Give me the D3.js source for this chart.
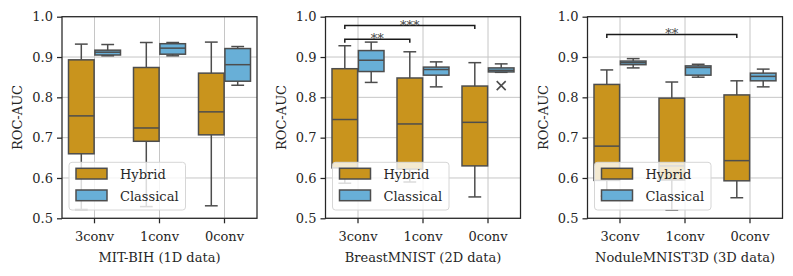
<!DOCTYPE html>
<meta charset="utf-8">
<head>
<script src="https://cdn.jsdelivr.net/npm/d3@7"></script>
<style>
  body { margin: 0; background: #fff; }
  text { font-family: "DejaVu Serif", serif; fill: #262626; }
  .tick text { font-size: 13px; }
  .domain { display: none; }
</style>
</head>
<body>
<svg id="svg"></svg>
<script>
// data: box stats are [lower whisker, Q1, median, Q3, upper whisker]
var categories = ["3conv", "1conv", "0conv"];
var groups = ["Hybrid", "Classical"];
var yTicks = [0.5, 0.6, 0.7, 0.8, 0.9, 1.0];
var xLabels = ["MIT-BIH (1D data)", "BreastMNIST (2D data)", "NoduleMNIST3D (3D data)"];

var mitHybrid = [[0.522, 0.660, 0.754, 0.893, 0.932], [0.529, 0.691, 0.724, 0.874, 0.936], [0.531, 0.707, 0.764, 0.860, 0.937]];
var mitClassical = [[0.903, 0.905, 0.912, 0.917, 0.931], [0.903, 0.907, 0.922, 0.933, 0.936], [0.830, 0.840, 0.881, 0.921, 0.926]];
var breastHybrid = [[0.587, 0.625, 0.745, 0.871, 0.928], [0.590, 0.622, 0.734, 0.848, 0.913], [0.553, 0.630, 0.738, 0.828, 0.886]];
var breastClassical = [[0.837, 0.864, 0.892, 0.916, 0.937], [0.826, 0.855, 0.869, 0.875, 0.888], [0.862, 0.863, 0.867, 0.873, 0.883]];
var noduleHybrid = [[0.555, 0.594, 0.679, 0.832, 0.868], [0.520, 0.595, 0.630, 0.798, 0.838], [0.551, 0.593, 0.643, 0.806, 0.841]];
var noduleClassical = [[0.873, 0.881, 0.886, 0.890, 0.896], [0.850, 0.855, 0.874, 0.878, 0.882], [0.826, 0.841, 0.852, 0.860, 0.870]];

var mitOutliers = [];
var breastOutliers = [{ cat: "0conv", group: "Classical", value: 0.829 }];
var noduleOutliers = [];

// significance brackets (between hybrid boxes)
var mitBrackets = [];
var breastBrackets = [{ from: "3conv", to: "0conv", y: 0.978, label: "***" }, { from: "3conv", to: "1conv", y: 0.944, label: "**" }];
var noduleBrackets = [{ from: "3conv", to: "0conv", y: 0.956, label: "**" }];

var panels = [
  { hybrid: mitHybrid, classical: mitClassical, outliers: mitOutliers, brackets: mitBrackets },
  { hybrid: breastHybrid, classical: breastClassical, outliers: breastOutliers, brackets: breastBrackets },
  { hybrid: noduleHybrid, classical: noduleClassical, outliers: noduleOutliers, brackets: noduleBrackets }
];

var color = d3.scaleOrdinal(groups, ["#c9941d", "#68afd7"]);
var edge = "#4d4d4d";

var width = 195, height = 201.6, marginTop = 16.7;
var lefts = [62, 325.5, 587.5];

var svg = d3.select("#svg")
  .attr("width", 793)
  .attr("height", 276)
  .style("background", "#fff");

var y = d3.scaleLinear().domain([0.5, 1.0]).range([height, 0]);
var x = d3.scaleBand().domain(categories).range([0, width]);
var xs = d3.scaleBand().domain(groups).range([x.bandwidth() * 0.1, x.bandwidth() * 0.9]).paddingInner(0.03);

panels.forEach(function (p, pi) {
  var g = svg.append("g").attr("transform", "translate(" + lefts[pi] + "," + marginTop + ")");

  // grid
  g.append("g").selectAll("line").data(yTicks).enter().append("line")
    .attr("x1", 0).attr("x2", width)
    .attr("y1", d => y(d)).attr("y2", d => y(d))
    .attr("stroke", "#c6c6c6").attr("stroke-width", 1);
  g.append("g").selectAll("line").data(categories).enter().append("line")
    .attr("x1", d => x(d) + x.bandwidth() / 2).attr("x2", d => x(d) + x.bandwidth() / 2)
    .attr("y1", 0).attr("y2", height)
    .attr("stroke", "#c6c6c6").attr("stroke-width", 1);

  // boxes
  var rows = [];
  categories.forEach(function (c, ci) {
    rows.push({ cat: c, group: "Hybrid", s: p.hybrid[ci] });
    rows.push({ cat: c, group: "Classical", s: p.classical[ci] });
  });

  var bw = xs.bandwidth();
  var boxes = g.append("g").selectAll("g").data(rows).enter().append("g")
    .attr("transform", d => "translate(" + (x(d.cat) + xs(d.group)) + ",0)");

  boxes.append("line")
    .attr("x1", bw / 2).attr("x2", bw / 2)
    .attr("y1", d => y(d.s[0])).attr("y2", d => y(d.s[4]))
    .attr("stroke", edge).attr("stroke-width", 1.5);
  boxes.selectAll(".cap").data(d => [d.s[0], d.s[4]]).enter().append("line")
    .attr("x1", bw / 4).attr("x2", bw * 3 / 4)
    .attr("y1", d => y(d)).attr("y2", d => y(d))
    .attr("stroke", edge).attr("stroke-width", 1.5);
  boxes.append("rect")
    .attr("x", 0).attr("width", bw)
    .attr("y", d => y(d.s[3])).attr("height", d => y(d.s[1]) - y(d.s[3]))
    .attr("fill", d => color(d.group))
    .attr("stroke", edge).attr("stroke-width", 1.5);
  boxes.append("line")
    .attr("x1", 0).attr("x2", bw)
    .attr("y1", d => y(d.s[2])).attr("y2", d => y(d.s[2]))
    .attr("stroke", edge).attr("stroke-width", 1.5);

  // outliers
  g.append("g").selectAll("path").data(p.outliers).enter().append("path")
    .attr("transform", d => "translate(" + (x(d.cat) + xs(d.group) + bw / 2) + "," + y(d.value) + ")")
    .attr("d", "M-4.5,-4.5L4.5,4.5M-4.5,4.5L4.5,-4.5")
    .attr("stroke", edge).attr("stroke-width", 1.6).attr("fill", "none");

  // significance brackets
  var hc = function (c) { return x(c) + xs("Hybrid") + bw / 2; };
  var br = g.append("g").selectAll("g").data(p.brackets).enter().append("g");
  br.append("path")
    .attr("d", d => "M" + hc(d.from) + "," + (y(d.y) + 3.5) + "V" + y(d.y) + "H" + hc(d.to) + "V" + (y(d.y) + 3.5))
    .attr("fill", "none").attr("stroke", "#1a1a1a").attr("stroke-width", 1.5);
  br.append("text")
    .attr("x", d => (hc(d.from) + hc(d.to)) / 2)
    .attr("y", d => y(d.y) + 4)
    .attr("text-anchor", "middle")
    .style("font-size", "13px")
    .style("fill", "#444")
    .text(d => d.label);

  // frame
  g.append("rect").attr("width", width).attr("height", height)
    .attr("fill", "none").attr("stroke", "#262626").attr("stroke-width", 1.25);

  // axes
  g.append("g").call(d3.axisLeft(y).tickValues(yTicks).tickFormat(d3.format(".1f")).tickSize(5).tickPadding(4))
    .call(a => a.selectAll(".tick line").attr("stroke", "#262626").attr("stroke-width", 1.25));
  g.append("g").attr("transform", "translate(0," + height + ")")
    .call(d3.axisBottom(x).tickSize(5).tickPadding(8))
    .call(a => a.selectAll(".tick line").attr("stroke", "#262626").attr("stroke-width", 1.25));
  g.selectAll(".tick text").attr("fill", "#262626").style("font-family", "DejaVu Serif");

  g.append("text")
    .attr("transform", "translate(-40," + height / 2 + ") rotate(-90)")
    .attr("text-anchor", "middle")
    .style("font-size", "13px")
    .text("ROC-AUC");
  g.append("text")
    .attr("x", width / 2).attr("y", height + 44)
    .attr("text-anchor", "middle")
    .style("font-size", "13px")
    .text(xLabels[pi]);

  // legend
  var lg = g.append("g").attr("transform", "translate(7,145.6)");
  lg.append("rect").attr("width", 116.5).attr("height", 47.7).attr("rx", 3)
    .attr("fill", "#fff").attr("fill-opacity", 0.8).attr("stroke", "#d6d6d6").attr("stroke-width", 1);
  var items = lg.selectAll(".item").data(groups).enter().append("g")
    .attr("transform", (d, i) => "translate(7," + (6 + i * 21.7) + ")");
  items.append("rect").attr("width", 31).attr("height", 10.7)
    .attr("fill", d => color(d)).attr("stroke", edge).attr("stroke-width", 1.5);
  items.append("text").attr("x", 44).attr("y", 10.5)
    .style("font-size", "13px")
    .text(d => d);
});
</script>
</body>
